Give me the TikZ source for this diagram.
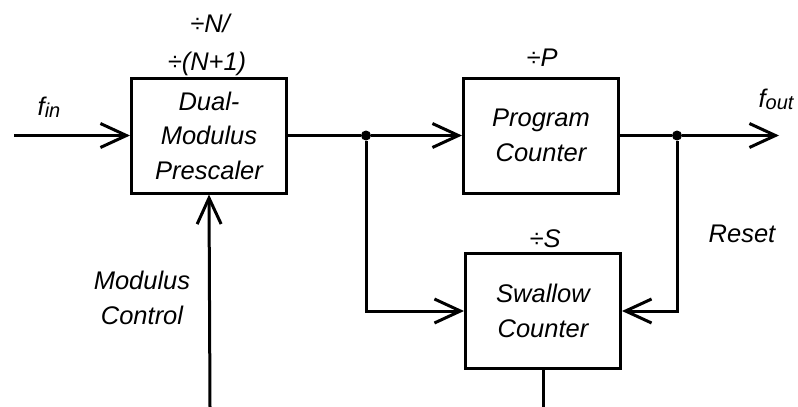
\documentclass[tikz,border=0pt]{standalone}
\usepackage{fontspec}
\setmainfont{Liberation Sans}
\usetikzlibrary{arrows.meta,positioning}

\newcommand{\lowsub}[1]{\raisebox{-2.5pt}{\fontsize{20}{20}\selectfont #1}}

\tikzset{
  block/.style={draw, line width=3pt, minimum width=155pt, minimum height=115pt, align=center, inner sep=0pt},
  wire/.style={line width=3pt},
  into/.style={-{Straight Barb[length=26pt,width=24pt]}},
  dot/.style={circle, fill, inner sep=0pt, minimum size=10pt},
  lbl/.style={anchor=base, align=center, inner sep=0pt}
}

\begin{document}
\begin{tikzpicture}[x=1pt, y=-1pt, font=\itshape\fontsize{25.5}{34.5}\selectfont]
\useasboundingbox (0,0) rectangle (798,407);

% blocks
\node[block] (pre) at (209,135.5) {Dual-\\Modulus\\Prescaler};
\node[block] (prog) at (541,135.5) {Program\\Counter};
\node[block] (swal) at (543,311) {Swallow\\Counter};

% divide ratios
\node[lbl] (nlbl) at (210,32) {÷N/};
\node[lbl] (n1lbl) at (207,70) {÷(N+1)};
\node[lbl] (plbl) at (542,66) {÷P};
\node[lbl] (slbl) at (545,247) {÷S};

% signal labels
\node[lbl] (fin) at (49,115) {f\lowsub{in}};
\node[lbl] (fout) at (776,107) {f\lowsub{out}};
\node[lbl] (rst) at (742,242) {Reset};
\node[lbl] (mod) at (142,289) {Modulus};
\node[lbl] (ctl) at (142,324) {Control};

% ends and junctions
\coordinate (inp) at (14,135.5);
\coordinate (outp) at (779,135.5);
\coordinate (mcbot) at (210,407);
\coordinate (swbot) at (543,407);
\node[dot] (d1) at (366,135.5) {};
\node[dot] (d2) at (677,135.5) {};

% wires
\draw[wire,into] (inp) -- (pre.west);
\draw[wire] (pre.east) -- (d1);
\draw[wire,into] (d1) -- (prog.west);
\draw[wire] (prog.east) -- (d2);
\draw[wire,into] (d2) -- (outp);
\draw[wire,into] (d1) |- (swal.west);
\draw[wire,into] (d2) |- (swal.east);
\draw[wire,into] (mcbot) -- (pre.south);
\draw[wire] (swal.south) -- (swbot);

\end{tikzpicture}
\end{document}
